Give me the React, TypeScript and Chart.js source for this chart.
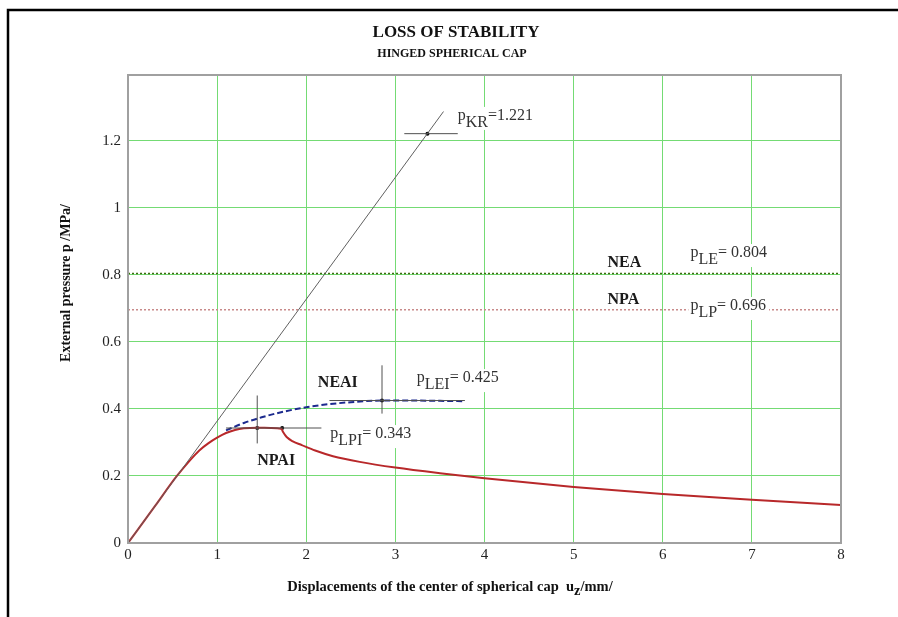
import { useEffect, useRef } from "react";
import { Chart, registerables } from "chart.js";

Chart.register(...registerables);

// ---- data ----
const xTickValues = [0, 1, 2, 3, 4, 5, 6, 7, 8];
const yTickValues = [0, 0.2, 0.4, 0.6, 0.8, 1, 1.2];

// linear (critical) branch
const diagX = [0, 3.54];
const diagP = [0, 1.287];

// NPAI curve (red)
const npaiX = [0, 0.3, 0.54, 0.7, 0.8, 0.9, 1.0, 1.1, 1.2, 1.3, 1.45, 1.6, 1.72, 1.74, 1.78, 1.85, 1.95, 2.1, 2.3, 2.6, 3, 3.5, 4, 5, 6, 7, 8];
const npaiP = [0, 0.109, 0.197, 0.248, 0.276, 0.297, 0.314, 0.328, 0.337, 0.342, 0.344, 0.343, 0.341, 0.331, 0.316, 0.303, 0.292, 0.276, 0.259, 0.242, 0.225, 0.208, 0.193, 0.167, 0.146, 0.129, 0.113];

// NEAI curve (blue dashed)
const neaiX = [1.1, 1.3, 1.5, 1.75, 2.0, 2.25, 2.5, 2.85, 3.2, 3.5, 3.78];
const neaiP = [0.336, 0.358, 0.375, 0.392, 0.405, 0.414, 0.42, 0.425, 0.425, 0.424, 0.423];

// characteristic values
const pKR = 1.221;
const pKRx = 3.36;
const pLE = 0.804;
const pLP = 0.696;
const pLEI = 0.425;
const pLEIx = 2.85;
const pLPI = 0.343;
const pLPIx = 1.45;
const npaiKinkX = 1.73;

// marker segments [x1, y1, x2, y2]
const markerSegments = [
  [3.1, pKR, 3.7, pKR],
  [pLEIx, 0.386, pLEIx, 0.53],
  [2.26, pLEI, 3.78, pLEI],
  [pLPIx, 0.297, pLPIx, 0.44],
  [1.1, pLPI, 2.17, pLPI],
];
const markerDots = [
  [pKRx, pKR],
  [pLEIx, pLEI],
  [pLPIx, pLPI],
  [npaiKinkX, pLPI],
];

const SERIF = '"Liberation Serif", "Times New Roman", serif';

const toXY = (xs: number[], ys: number[]) => xs.map((x, i) => ({ x, y: ys[i] }));

// labels anchored in data units
const subLabels = [
  { x: 3.70, y: 1.262, sub: "KR", rest: "=" + pKR.toFixed(3) },
  { x: 6.31, y: 0.853, sub: "LE", rest: "= " + pLE.toFixed(3) },
  { x: 6.31, y: 0.695, sub: "LP", rest: "= " + pLP.toFixed(3) },
  { x: 3.24, y: 0.480, sub: "LEI", rest: "= " + pLEI.toFixed(3) },
  { x: 2.27, y: 0.313, sub: "LPI", rest: "= " + pLPI.toFixed(3) },
];
const boldLabels = [
  { x: 5.38, y: 0.823, text: "NEA" },
  { x: 5.38, y: 0.713, text: "NPA" },
  { x: 2.13, y: 0.465, text: "NEAI" },
  { x: 1.45, y: 0.233, text: "NPAI" },
];

const annotPlugin = {
  id: "annot",
  afterDatasetsDraw(chart: any) {
    const { ctx } = chart;
    const xs = chart.scales.x;
    const ys = chart.scales.y;
    ctx.save();
    for (const l of subLabels) {
      const px = xs.getPixelForValue(l.x);
      const py = ys.getPixelForValue(l.y);
      const fs = 16;
      const so = 7;
      ctx.font = `${fs}px ${SERIF}`;
      const wP = ctx.measureText("p").width;
      const wS = ctx.measureText(l.sub).width;
      const wR = ctx.measureText(l.rest).width;
      ctx.fillStyle = "#ffffff";
      ctx.fillRect(px - 2, py - 13, wP + wS + wR + 5, 13 + so + 3);
      ctx.fillStyle = "#333333";
      ctx.textBaseline = "alphabetic";
      ctx.textAlign = "left";
      ctx.fillText("p", px, py);
      ctx.fillText(l.sub, px + wP, py + so);
      ctx.fillText(l.rest, px + wP + wS, py);
    }
    ctx.font = `bold 16px ${SERIF}`;
    ctx.fillStyle = "#1a1a1a";
    for (const l of boldLabels) {
      ctx.fillText(l.text, xs.getPixelForValue(l.x), ys.getPixelForValue(l.y));
    }
    ctx.restore();
  },
  afterDraw(chart: any) {
    const { ctx, chartArea: a } = chart;
    ctx.save();
    ctx.strokeStyle = "#a0a0a0";
    ctx.lineWidth = 2;
    ctx.strokeRect(a.left, a.top, a.right - a.left, a.bottom - a.top);
    ctx.strokeStyle = "#000000";
    ctx.lineWidth = 2.5;
    ctx.beginPath();
    ctx.moveTo(8, 640);
    ctx.lineTo(8, 10);
    ctx.lineTo(900, 10);
    ctx.stroke();
    ctx.fillStyle = "#111111";
    ctx.textAlign = "center";
    ctx.textBaseline = "alphabetic";
    ctx.font = `bold 17px ${SERIF}`;
    ctx.fillText("LOSS OF STABILITY", 456, 37);
    ctx.font = `bold 12px ${SERIF}`;
    ctx.fillText("HINGED SPHERICAL CAP", 452, 57);
    ctx.save();
    ctx.translate(70, 283);
    ctx.rotate(-Math.PI / 2);
    ctx.font = `bold 14px ${SERIF}`;
    ctx.fillText("External pressure p /MPa/", 0, 0);
    ctx.restore();
    ctx.font = `bold 14.5px ${SERIF}`;
    const t1 = "Displacements of the center of spherical cap  u";
    const t2 = "z";
    const t3 = "/mm/";
    const w1 = ctx.measureText(t1).width;
    const w2 = ctx.measureText(t2).width;
    const w3 = ctx.measureText(t3).width;
    const sx = 450 - (w1 + w2 + w3) / 2;
    ctx.textAlign = "left";
    ctx.fillText(t1, sx, 591);
    ctx.fillText(t2, sx + w1, 595);
    ctx.fillText(t3, sx + w1 + w2, 591);
    ctx.restore();
  },
};

export default function App() {
  const ref = useRef<HTMLCanvasElement | null>(null);
  useEffect(() => {
    if (!ref.current) return;
    const grid = "#74db74";
    const chart = new Chart(ref.current, {
      type: "line",
      data: {
        datasets: [
          {
            data: toXY(diagX, diagP),
            borderColor: "#606060",
            borderWidth: 1,
            pointRadius: 0,
          },
          {
            data: toXY([0, 8], [pLE, pLE]),
            borderColor: "#3d6b12",
            borderWidth: 1.5,
            borderDash: [2, 2],
            pointRadius: 0,
          },
          {
            data: toXY([0, 8], [pLP, pLP]),
            borderColor: "#c88a8a",
            borderWidth: 1.5,
            borderDash: [2, 2],
            pointRadius: 0,
          },
          ...markerSegments.map((s) => ({
            data: [
              { x: s[0], y: s[1] },
              { x: s[2], y: s[3] },
            ],
            borderColor: "#505050",
            borderWidth: 1,
            pointRadius: 0,
          })),
          {
            data: toXY(neaiX, neaiP),
            borderColor: "#1c2a8e",
            borderWidth: 2,
            borderDash: [6, 3],
            pointRadius: 0,
            cubicInterpolationMode: "monotone",
          },
          {
            data: toXY(npaiX, npaiP),
            borderColor: "#b8282a",
            borderWidth: 2,
            pointRadius: 0,
            cubicInterpolationMode: "monotone",
          },
          {
            data: markerDots.map((d) => ({ x: d[0], y: d[1] })),
            showLine: false,
            pointRadius: 2,
            pointBackgroundColor: "#000000",
            pointBorderWidth: 0,
          },
        ] as any,
      },
      options: {
        responsive: false,
        animation: false,
        layout: { padding: { top: 75, right: 57, left: 0, bottom: 0 } },
        plugins: { legend: { display: false }, tooltip: { enabled: false } },
        scales: {
          x: {
            type: "linear",
            min: 0,
            max: 8,
            afterFit: (s: any) => {
              s.height = 74;
            },
            afterBuildTicks: (s: any) => {
              s.ticks = xTickValues.map((v) => ({ value: v }));
            },
            grid: { color: grid, lineWidth: 1, drawTicks: false },
            border: { display: false },
            ticks: {
              padding: 3,
              color: "#222222",
              font: { family: SERIF, size: 15 },
              maxRotation: 0,
              autoSkip: false,
            },
          },
          y: {
            type: "linear",
            min: 0,
            max: 1.396,
            afterFit: (s: any) => {
              s.width = 128;
            },
            afterBuildTicks: (s: any) => {
              s.ticks = yTickValues.map((v) => ({ value: v }));
            },
            grid: { color: grid, lineWidth: 1, drawTicks: false },
            border: { display: false },
            ticks: {
              padding: 7,
              color: "#222222",
              font: { family: SERIF, size: 15 },
              autoSkip: false,
              callback: (v: any) => String(Math.round(Number(v) * 10) / 10),
            },
          },
        },
      } as any,
      plugins: [annotPlugin],
    });
    return () => chart.destroy();
  }, []);
  return (
    <div style={{ position: "fixed", left: 0, top: 0, width: 898, height: 617, background: "#ffffff" }}>
      <canvas ref={ref} width={898} height={617} style={{ width: 898, height: 617, display: "block" }} />
    </div>
  );
}
